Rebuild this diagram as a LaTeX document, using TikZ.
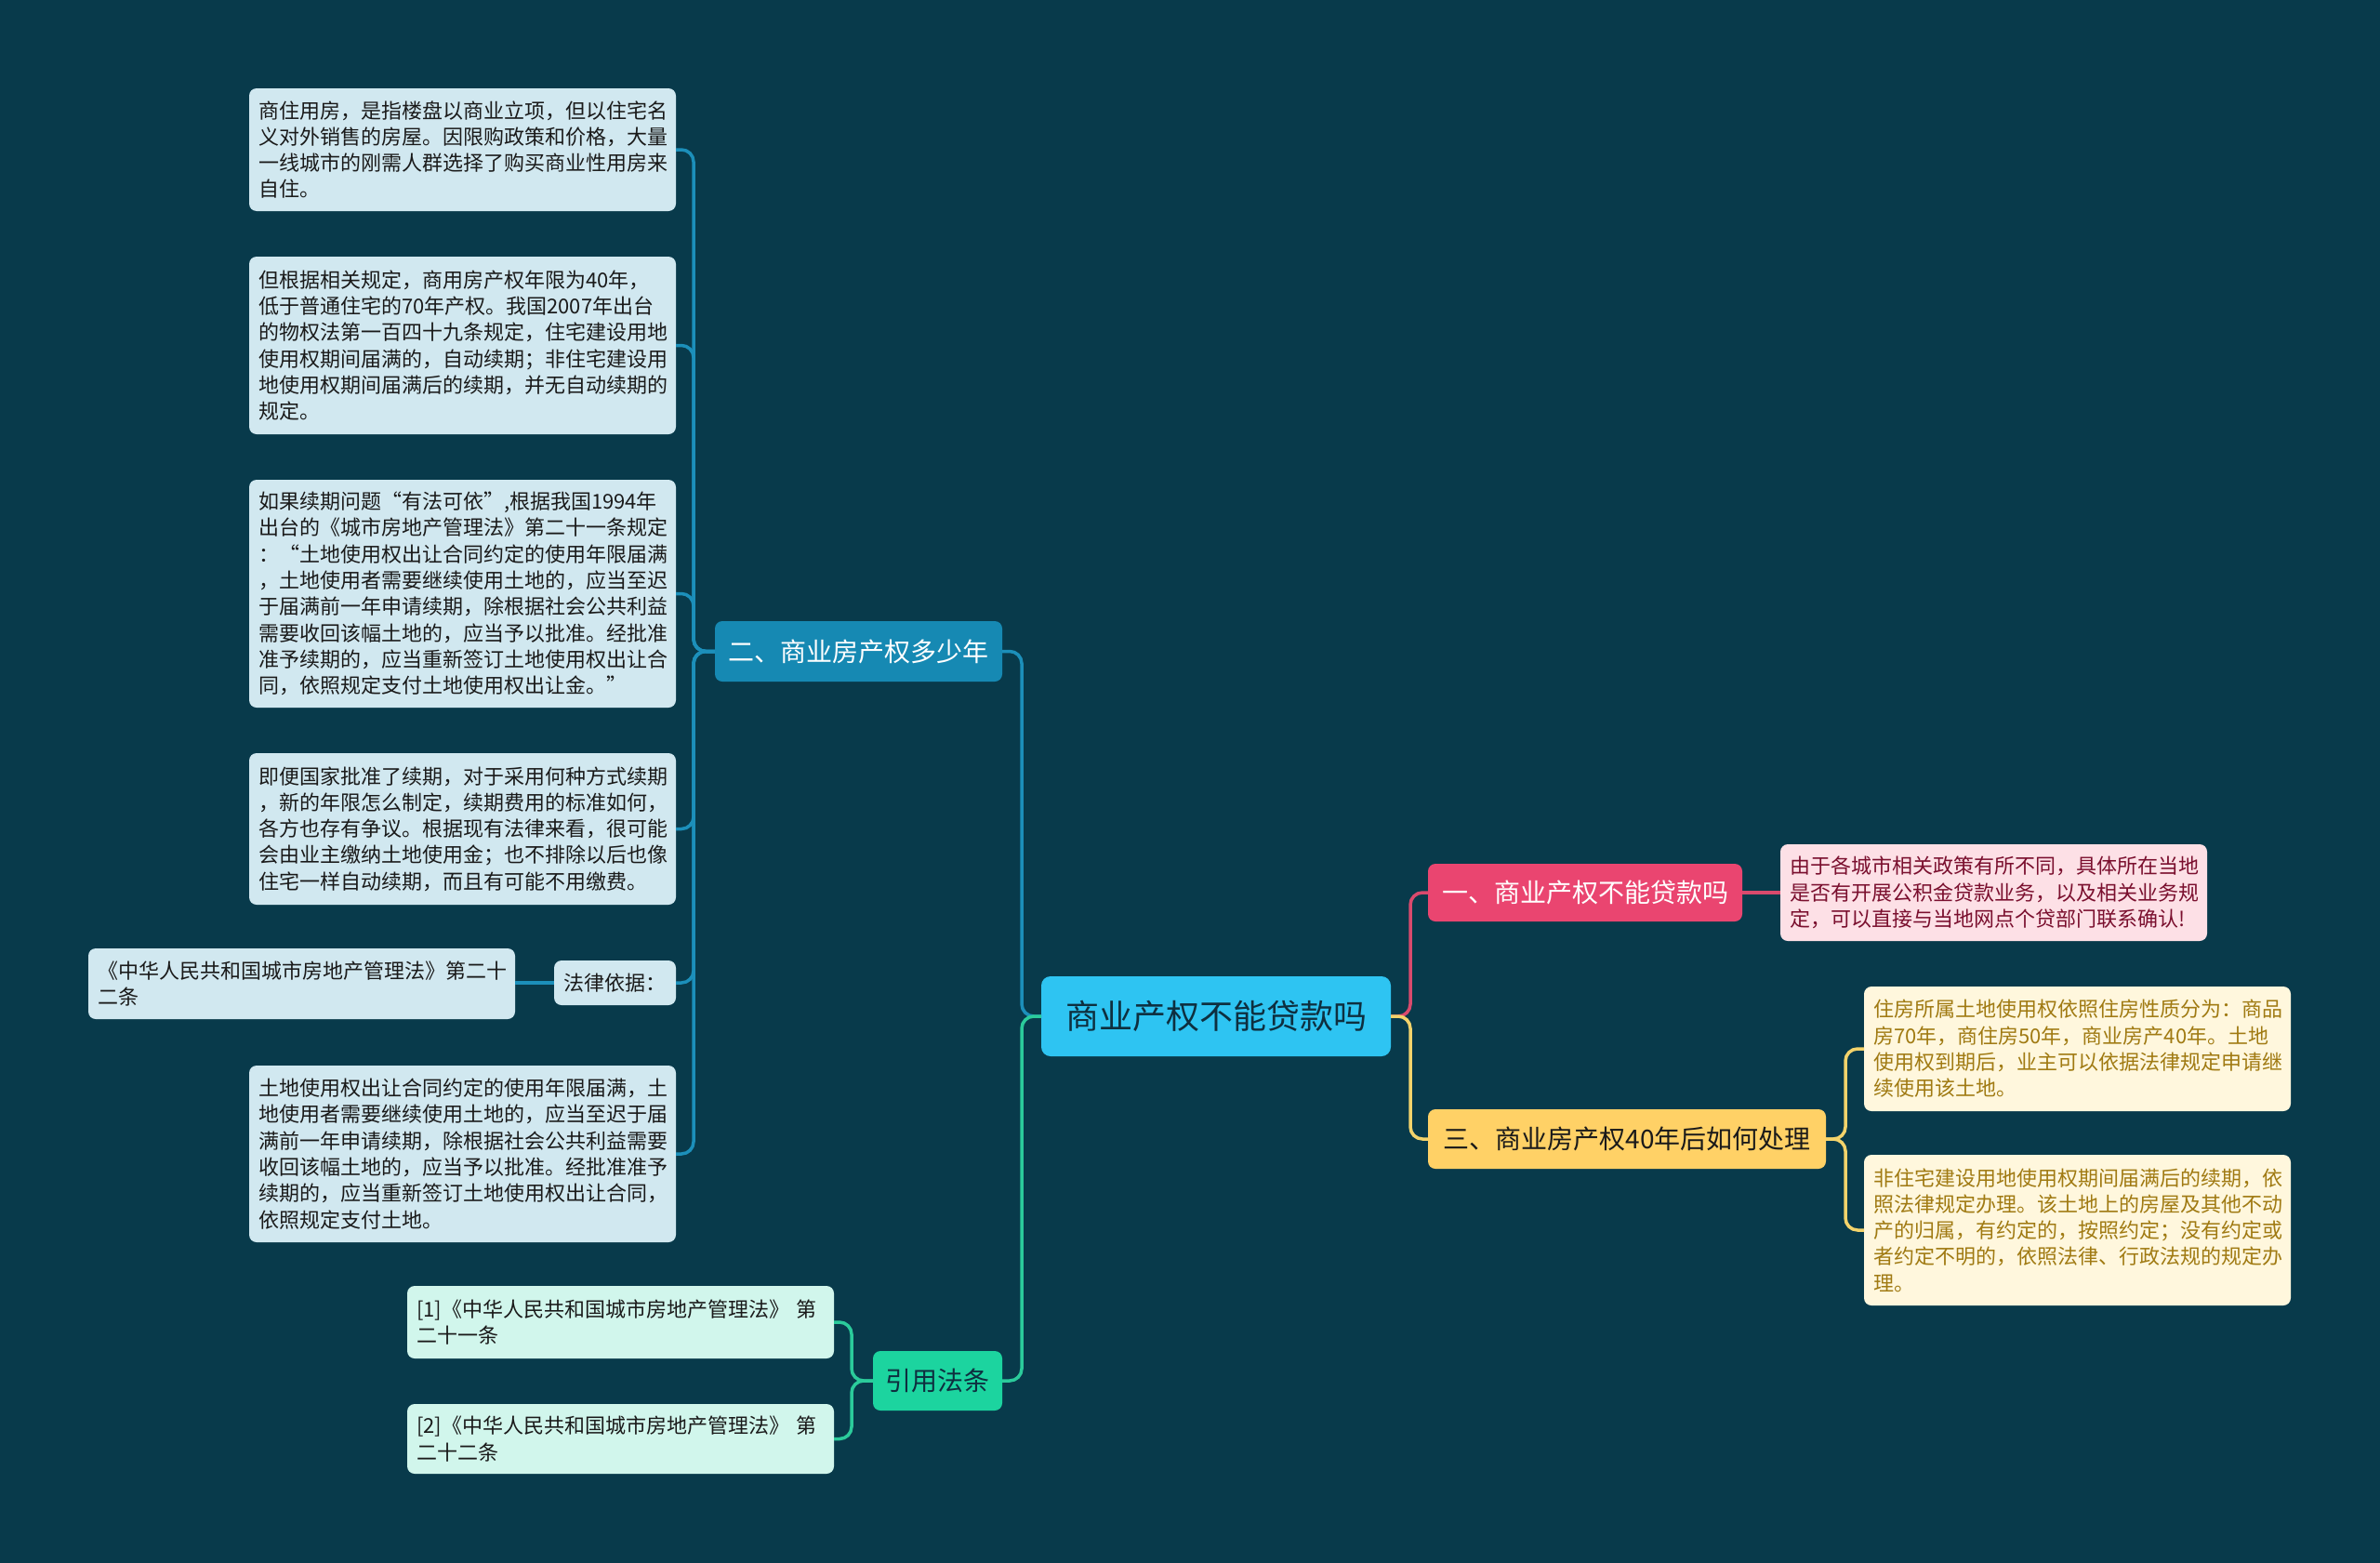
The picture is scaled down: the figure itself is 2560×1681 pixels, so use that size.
\documentclass[tikz,border=0pt]{standalone}
\usepackage{fontspec}
\newfontfamily\cjk{Noto Sans CJK SC}
\definecolor{bg}{HTML}{083A4B}
\definecolor{rootfill}{HTML}{2EC4F2}
\definecolor{roottext}{HTML}{0E2F3F}
\definecolor{bluefill}{HTML}{1689B3}
\definecolor{blueline}{HTML}{1C8FBA}
\definecolor{blueleaf}{HTML}{D1E8F0}
\definecolor{pinkfill}{HTML}{EA4570}
\definecolor{pinkline}{HTML}{D94A6D}
\definecolor{pinkleaf}{HTML}{FDE0E6}
\definecolor{pinktext}{HTML}{7A0F2E}
\definecolor{yelfill}{HTML}{FFD166}
\definecolor{yelline}{HTML}{F3D36B}
\definecolor{yelleaf}{HTML}{FFF7DD}
\definecolor{yeltext}{HTML}{A07A12}
\definecolor{grnfill}{HTML}{1CD49F}
\definecolor{grnline}{HTML}{2BCB9B}
\definecolor{grnleaf}{HTML}{D1F6EC}
\definecolor{darktext}{HTML}{1A1A1A}
\tikzset{
  every node/.style={inner sep=0pt, outer sep=0pt},
  leafbox/.style={rounded corners=8pt, inner xsep=10pt, inner ysep=6pt, text width=439pt,
    align=left, anchor=north west, font=\cjk\fontsize{22}{28.3}\selectfont},
  bleaf/.style={leafbox, fill=blueleaf, text=darktext},
  pleaf/.style={leafbox, fill=pinkleaf, text=pinktext},
  yleaf/.style={leafbox, fill=yelleaf, text=yeltext},
  gleaf/.style={leafbox, fill=grnleaf, text=darktext},
  branchbox/.style={rounded corners=8pt, align=center, font=\cjk\fontsize{28}{32}\selectfont},
  conn/.style={line width=3.5pt, rounded corners=13pt},
}
\begin{document}
\begin{tikzpicture}[x=1pt,y=-1pt]
\useasboundingbox (0,0) rectangle (2560,1681);
\fill[bg] (0,0) rectangle (2560,1681);

% root and main branches
\node[rounded corners=10pt, fill=rootfill, text=roottext, minimum width=376pt, minimum height=86pt,
  font=\cjk\fontsize{36}{40}\selectfont] (root) at (1308,1093) {商业产权不能贷款吗};
\node[branchbox, fill=pinkfill, text=white, minimum width=338pt, minimum height=62pt] (b1) at (1705,960) {一、商业产权不能贷款吗};
\node[branchbox, fill=bluefill, text=white, minimum width=309pt, minimum height=65pt] (b2) at (923.5,700.5) {二、商业房产权多少年};
\node[branchbox, fill=yelfill, text=darktext, minimum width=428pt, minimum height=64pt] (b3) at (1750,1225) {三、商业房产权40年后如何处理};
\node[branchbox, fill=grnfill, text=roottext, minimum width=139pt, minimum height=64pt] (b4) at (1008.5,1485) {引用法条};

% branch 1 leaf
\node[pleaf, minimum height=104pt] (p1) at (1915,908) {由于各城市相关政策有所不同，具体所在当地\\是否有开展公积金贷款业务，以及相关业务规\\定，可以直接与当地网点个贷部门联系确认!};

% branch 3 leaves
\node[yleaf, minimum height=134pt] (y1) at (2005,1061) {住房所属土地使用权依照住房性质分为：商品\\房70年，商住房50年，商业房产40年。土地\\使用权到期后，业主可以依据法律规定申请继\\续使用该土地。};
\node[yleaf, minimum height=162pt] (y2) at (2005,1242) {非住宅建设用地使用权期间届满后的续期，依\\照法律规定办理。该土地上的房屋及其他不动\\产的归属，有约定的，按照约定；没有约定或\\者约定不明的，依照法律、行政法规的规定办\\理。};

% branch 2 leaves
\node[bleaf, minimum height=132pt] (a1) at (268,95) {商住用房，是指楼盘以商业立项，但以住宅名\\义对外销售的房屋。因限购政策和价格，大量\\一线城市的刚需人群选择了购买商业性用房来\\自住。};
\node[bleaf, minimum height=191pt] (a2) at (268,276) {但根据相关规定，商用房产权年限为40年，\\低于普通住宅的70年产权。我国2007年出台\\的物权法第一百四十九条规定，住宅建设用地\\使用权期间届满的，自动续期；非住宅建设用\\地使用权期间届满后的续期，并无自动续期的\\规定。};
\node[bleaf, minimum height=245pt] (a3) at (268,516) {如果续期问题“有法可依”,根据我国1994年\\出台的《城市房地产管理法》第二十一条规定\\：“土地使用权出让合同约定的使用年限届满\\，土地使用者需要继续使用土地的，应当至迟\\于届满前一年申请续期，除根据社会公共利益\\需要收回该幅土地的，应当予以批准。经批准\\准予续期的，应当重新签订土地使用权出让合\\同，依照规定支付土地使用权出让金。”};
\node[bleaf, minimum height=163pt] (a4) at (268,810) {即便国家批准了续期，对于采用何种方式续期\\，新的年限怎么制定，续期费用的标准如何，\\各方也存有争议。根据现有法律来看，很可能\\会由业主缴纳土地使用金；也不排除以后也像\\住宅一样自动续期，而且有可能不用缴费。};
\node[rounded corners=8pt, fill=blueleaf, text=darktext, minimum width=131pt, minimum height=48pt,
  font=\cjk\fontsize{22}{28.3}\selectfont] (law) at (661.5,1057) {法律依据：};
\node[bleaf, minimum height=76pt] (l5) at (95,1020) {《中华人民共和国城市房地产管理法》第二十\\二条};
\node[bleaf, minimum height=190pt] (a6) at (268,1146) {土地使用权出让合同约定的使用年限届满，土\\地使用者需要继续使用土地的，应当至迟于届\\满前一年申请续期，除根据社会公共利益需要\\收回该幅土地的，应当予以批准。经批准准予\\续期的，应当重新签订土地使用权出让合同，\\依照规定支付土地。};

% branch 4 leaves
\node[gleaf, minimum height=78pt] (r1) at (438,1383) {[1]《中华人民共和国城市房地产管理法》 第\\二十一条};
\node[gleaf, minimum height=75pt] (r2) at (438,1510) {[2]《中华人民共和国城市房地产管理法》 第\\二十二条};

% connectors: root to branches
\draw[conn, pinkline] (root.east) -- ++(21,0) |- (b1.west);
\draw[conn, yelline] (root.east) -- ++(21,0) |- (b3.west);
\draw[conn, blueline] (root.west) -- ++(-21,0) |- (b2.east);
\draw[conn, grnline] (root.west) -- ++(-21,0) |- (b4.east);

% branch 1
\draw[conn, pinkline] (b1.east) -- (p1.west);
% branch 3
\draw[conn, yelline] (b3.east) -- ++(21,0) |- (y1.west);
\draw[conn, yelline] (b3.east) -- ++(21,0) |- (y2.west);
% branch 2
\foreach \t in {a1,a2,a3,a4,law,a6}{
  \draw[conn, blueline] (b2.west) -- ++(-23,0) |- (\t.east);
}
\draw[conn, blueline] (law.west) -- (l5.east |- law.west);
% branch 4
\draw[conn, grnline] (b4.west) -- ++(-23,0) |- (r1.east);
\draw[conn, grnline] (b4.west) -- ++(-23,0) |- (r2.east);
\end{tikzpicture}
\end{document}
